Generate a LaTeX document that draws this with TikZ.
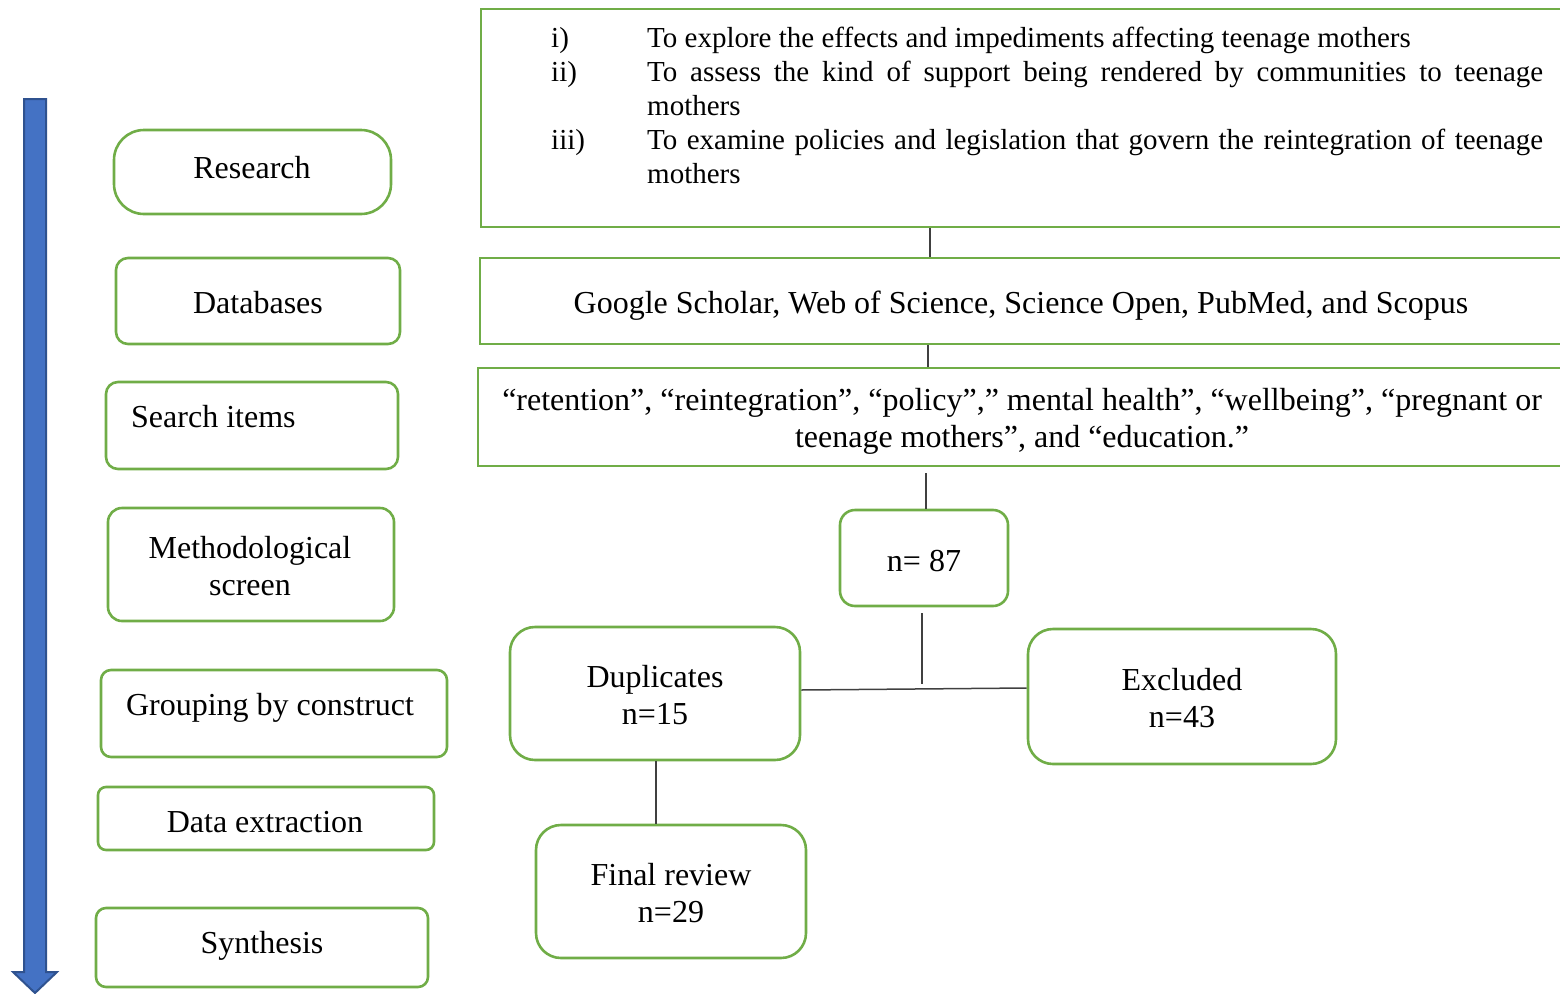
\documentclass[tikz,border=0pt]{standalone}
\usepackage{fontspec}
\setmainfont{Liberation Serif}
\definecolor{boxgreen}{HTML}{70AD47}
\definecolor{arrowblue}{HTML}{4472C4}
\definecolor{arrowedge}{HTML}{2F528F}
\definecolor{linegray}{HTML}{404040}
\newcommand{\nohyphs}{\hyphenpenalty=10000 \exhyphenpenalty=10000 }
\begin{document}
\begin{tikzpicture}[x=1pt,y=-1pt,
  gbox/.style={draw=boxgreen, line width=2.6pt, rounded corners=#1, inner sep=0pt},
  gbox/.default=12pt,
  sbox/.style={draw=boxgreen, line width=2.6pt, inner sep=0pt},
  txt/.style={font=\fontsize{32}{37}\selectfont, inner sep=0pt, align=center},
  objlab/.style={font=\fontsize{29}{34}\selectfont, inner sep=0pt},
  objpar/.style={font=\fontsize{29}{34}\selectfont, inner sep=0pt, text width=896pt, align=justify},
  conn/.style={draw=linegray, line width=1.5pt}]
\useasboundingbox (0,0) rectangle (1560,993);
\clip (0,0) rectangle (1560,993);
% arrow
\draw[fill=arrowblue, draw=arrowedge, line width=2pt, line join=miter]
  (24,99) -- (46,99) -- (46,972) -- (57,972) -- (35,993) -- (13,972) -- (24,972) -- cycle;
% left column boxes
\node[gbox=30pt, minimum width=277pt, minimum height=84pt] (research) at (252.5,172) {};
\node[gbox, minimum width=284pt, minimum height=86pt] (databases) at (258,301) {};
\node[gbox, minimum width=292pt, minimum height=87pt] (search) at (252,425.5) {};
\node[gbox=14pt, minimum width=286pt, minimum height=113pt] (method) at (251,564.5) {};
\node[gbox=10pt, minimum width=346pt, minimum height=87pt] (group) at (274,713.5) {};
\node[gbox=8pt, minimum width=336pt, minimum height=63pt] (extract) at (266,818.5) {};
\node[gbox=10pt, minimum width=332pt, minimum height=79pt] (synth) at (262,947.5) {};
\node[txt] (researcht) at (252,168) {Research};
\node[txt] (databasest) at (258,303) {Databases};
\node[txt, anchor=west] (searcht) at (131,417) {Search items};
\node[txt] (methodt) at (250,566) {Methodological\\screen};
\node[txt] (groupt) at (270,708) {Grouping by construct};
\node[txt] (extractt) at (265,822) {Data extraction};
\node[txt] (syntht) at (262,946) {Synthesis};
% right boxes
\node[sbox, minimum width=1084pt, minimum height=218pt] (obj) at (1023,118) {};
\node[sbox, minimum width=1085pt, minimum height=86pt] (google) at (1022.5,301) {};
\node[sbox, minimum width=1087pt, minimum height=98pt] (terms) at (1021.5,417) {};
\node[objlab, anchor=base west] (l1) at (551,47) {i)};
\node[objlab, anchor=base west] (l2) at (551,81) {ii)};
\node[objlab, anchor=base west] (l3) at (551,149) {iii)};
\node[objpar, anchor=north west] (p1) at (647,23.2) {\nohyphs\strut To explore the effects and impediments affecting teenage \mbox{mothers}\par};
\node[objpar, anchor=north west] (p2) at (647,57.2) {\nohyphs\strut To assess the kind of support being rendered by communities to teenage \mbox{mothers}\par};
\node[objpar, anchor=north west] (p3) at (647,125.2) {\nohyphs\strut To examine policies and legislation that govern the reintegration of teenage \mbox{mothers}\par};
\node[txt] (googlet) at (1021,306) {Google Scholar, Web of Science, Science Open, PubMed, and Scopus};
\node[txt] (termst) at (1022,421) {“retention”, “reintegration”, “policy”,” mental health”, “wellbeing”, “pregnant or\\teenage mothers”, and “education.”};
% flow boxes
\node[gbox=15pt, minimum width=168pt, minimum height=96pt] (n87) at (924,558) {};
\node[gbox=25pt, minimum width=290pt, minimum height=133pt] (dup) at (655,693.5) {};
\node[gbox=25pt, minimum width=308pt, minimum height=135pt] (exc) at (1182,696.5) {};
\node[gbox=25pt, minimum width=270pt, minimum height=133pt] (final) at (671,891.5) {};
\node[txt] (n87t) at (924,561) {n= 87};
\node[txt] (dupt) at (655,695) {Duplicates\\n=15};
\node[txt] (exct) at (1182,698) {Excluded\\n=43};
\node[txt] (finalt) at (671,893) {Final review\\n=29};
% connectors
\coordinate (jn) at (922,684);
\draw[conn] ([xshift=-93pt]obj.south) -- ([xshift=-92.5pt]google.north);
\draw[conn] ([xshift=-94.5pt]google.south) -- ([xshift=-93.5pt]terms.north);
\draw[conn] ([xshift=-95.5pt,yshift=-6pt]terms.south) -- ([xshift=2pt]n87.north);
\draw[conn] ([xshift=-2pt,yshift=-6pt]n87.south) -- (jn);
\draw[conn] ([yshift=3.5pt]dup.east) -- ([yshift=8.5pt]exc.west);
\draw[conn] ([xshift=1pt]dup.south) -- ([xshift=-15pt]final.north);
\end{tikzpicture}
\end{document}
